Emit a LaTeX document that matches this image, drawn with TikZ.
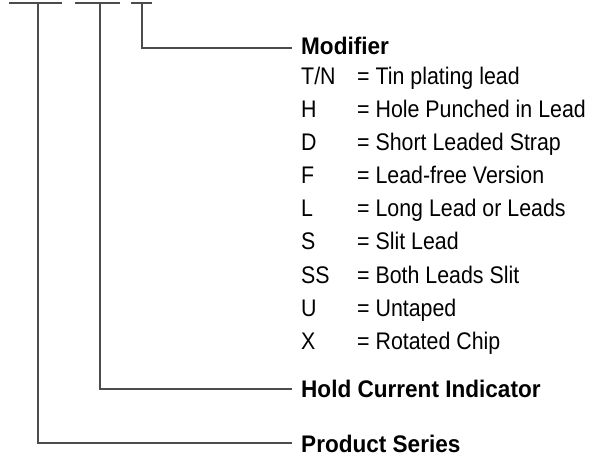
\documentclass[tikz,border=0pt]{standalone}
\usepackage{fontspec}
\setmainfont{Liberation Sans}[FakeStretch=0.89,BoldFeatures={FakeStretch=0.94}]
\begin{document}
\begin{tikzpicture}[x=1pt,y=1pt,
  conn/.style={draw=black!70,line width=1.1pt},
  hdr/.style={anchor=base west,inner sep=0pt,font=\fontsize{24}{28}\selectfont\bfseries},
  code/.style={anchor=base west,inner sep=0pt,font=\fontsize{24}{28}\selectfont},
  desc/.style={anchor=base west,inner sep=0pt,font=\fontsize{24}{28}\selectfont}]
\useasboundingbox (0,0) rectangle (597,-457);
% bars
\coordinate (b1l) at (9,-3);  \coordinate (b1r) at (62,-3);  \coordinate (b1) at (38,-3);
\coordinate (b2l) at (75,-3); \coordinate (b2r) at (120,-3); \coordinate (b2) at (100,-3);
\coordinate (b3l) at (131,-3);\coordinate (b3r) at (152,-3); \coordinate (b3) at (142,-3);
\draw[conn] (b1l) -- (b1r);
\draw[conn] (b2l) -- (b2r);
\draw[conn] (b3l) -- (b3r);
% line ends
\coordinate (em) at (292,-48);
\coordinate (eh) at (292,-389);
\coordinate (ep) at (292,-443);
\draw[conn] (b3) |- (em);
\draw[conn] (b2) |- (eh);
\draw[conn] (b1) |- (ep);
% headings
\node[hdr] (mod) at (301,-55) {Modifier};
\node[hdr] (hold) at (301,-397) {Hold Current Indicator};
\node[hdr] (prod) at (301,-452) {Product Series};
% modifier table
\foreach \c/\d [count=\i from 0] in {{T/N}/Tin plating lead,H/Hole Punched in Lead,D/Short Leaded Strap,F/Lead-free Version,L/Long Lead or Leads,S/Slit Lead,SS/Both Leads Slit,U/Untaped,X/Rotated Chip}{
  \node[code] (c\i) at (301,{-85-33*\i}) {\c};
  \node[desc] (d\i) at (357,{-85-33*\i}) {= \d};
}
\end{tikzpicture}
\end{document}
